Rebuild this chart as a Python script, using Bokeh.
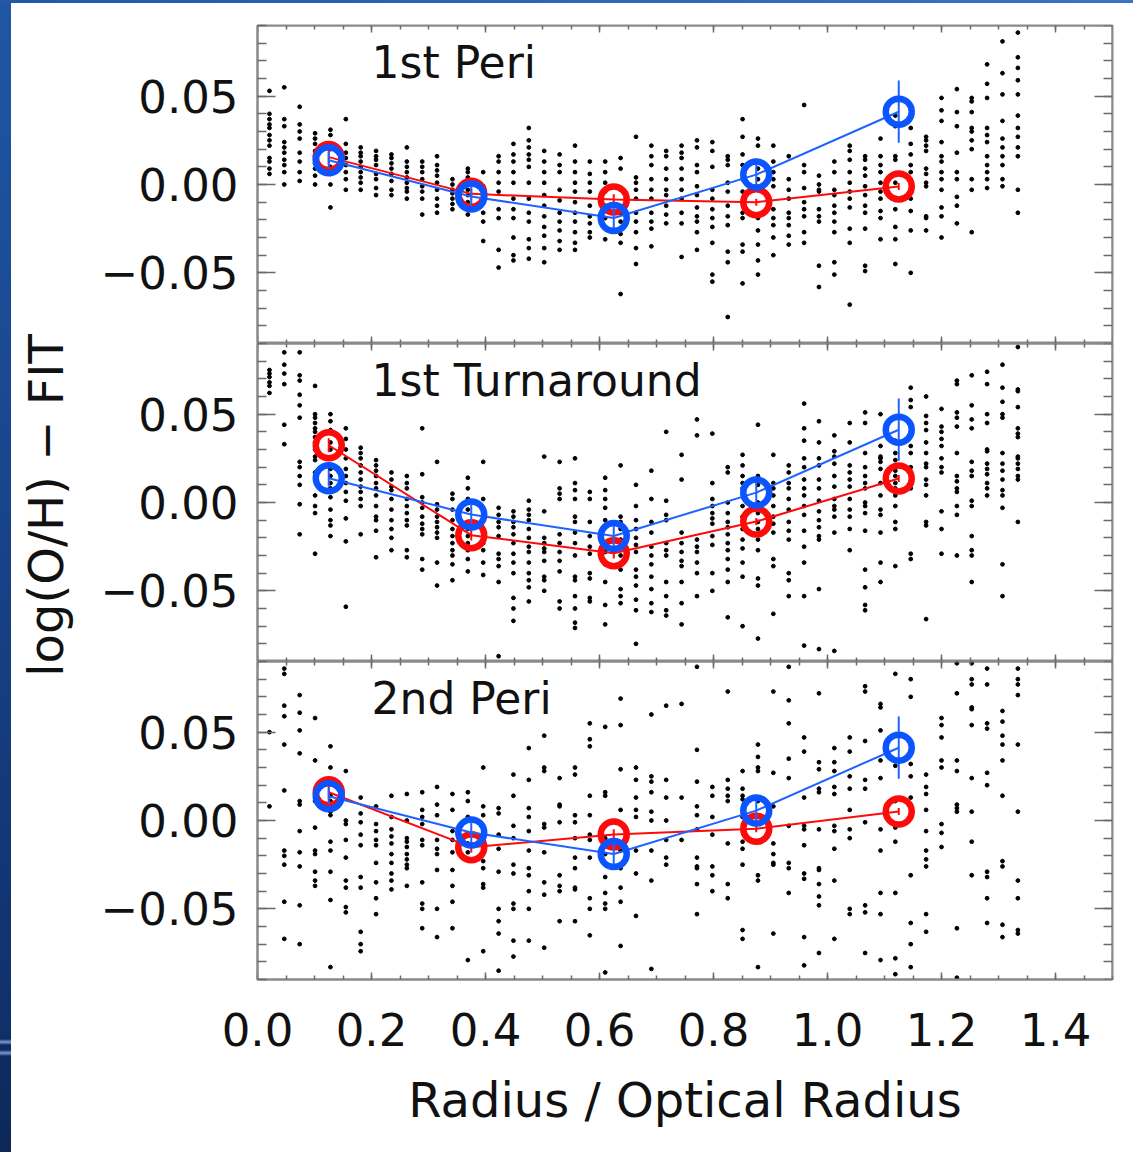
from bokeh.plotting import figure
from bokeh.layouts import column, row
from bokeh.models import (Div, LinearAxis, FixedTicker, Range1d,
                          ColumnDataSource, CustomJSTickFormatter, Label)
from bokeh.embed import file_html
from bokeh.resources import INLINE

# ---------------------------------------------------------------------------
# Data
# ---------------------------------------------------------------------------
# radial columns in which the individual HII-region points sit (R / R_opt)
RADIUS_COLUMNS = [
    0.021, 0.047, 0.074, 0.101, 0.128, 0.155, 0.181, 0.208, 0.235, 0.262,
    0.289, 0.315, 0.342, 0.369, 0.396, 0.423, 0.449, 0.476, 0.503, 0.530,
    0.557, 0.583, 0.610, 0.637, 0.664, 0.691, 0.717, 0.744, 0.771, 0.798,
    0.825, 0.851, 0.878, 0.905, 0.932, 0.959, 0.985, 1.012, 1.039, 1.066,
    1.093, 1.119, 1.146, 1.173, 1.200, 1.227, 1.253, 1.280, 1.307, 1.334,
]

# residuals log(O/H) - FIT per radial column, in units of 0.001 dex
PERI1_POINTS = [
    [53, 40, 37, 34, 32, 28, 25, 22, 15, 13, 9, 6],
    [55, 37, 33, 24, 21, 18, 14, 11, 7, 0],
    [44, 34, 30, 26, 18, 13, 7, 2],
    [29, 26, 23, 19, 16, 12, 9, 5, 0],
    [31, 28, 23, 20, 10, 6, 0, -13],
    [37, 23, 18, 15, 11, 7, 3, -3],
    [21, 18, 16, 13, 10, 7, 4, 1, -3],
    [19, 16, 14, 11, 6, 3, -2, -6],
    [17, 15, 12, 9, 6, 2, -3, -6],
    [21, 13, 10, 7, 4, 1, -2, -4, -8],
    [13, 10, 7, 3, -1, -4, -8, -17],
    [16, 11, 8, 5, 1, -3, -8, -12, -16],
    [3, 0, -3, -5, -8, -11, -14],
    [9, 7, 4, 1, -3, -6, -10, -14, -17],
    [7, -1, -6, -10, -16, -21, -32],
    [16, 13, 7, 1, -4, -14, -19, -37, -47],
    [23, 17, 13, 7, 1, -8, -14, -19, -30, -40, -43],
    [32, 25, 21, 17, 14, 10, 1, -8, -16, -21, -31, -36, -42],
    [19, 13, 7, 1, -6, -12, -18, -24, -29, -36, -44],
    [17, 11, 7, -3, -9, -16, -21, -26, -32, -37],
    [22, 13, 7, 1, -4, -10, -16, -21, -27, -33, -37],
    [13, 6, 1, -4, -12, -18, -22, -27, -30],
    [13, 7, 1, -4, -12, -19, -25, -31],
    [15, 9, -3, -16, -21, -28, -33, -62],
    [27, 4, 1, -3, -8, -16, -21, -27, -36, -45],
    [22, 16, 11, 3, -3, -8, -16, -21, -25, -35],
    [19, 16, 9, 3, -3, -6, -12, -17, -22],
    [22, 18, 15, 9, 3, -3, -8, -16, -22, -41],
    [25, 21, 11, 7, -1, -6, -13, -18, -21, -27, -37],
    [24, 19, 10, -3, -8, -14, -19, -24, -33, -51, -55],
    [16, 14, 11, 1, -4, -12, -18, -23, -38, -44, -75],
    [37, 27, 17, 11, 3, -4, -10, -16, -19, -34, -38, -56],
    [26, 22, 9, 3, -3, -19, -26, -34, -43, -51],
    [22, 13, 7, 3, -1, -14, -19, -23, -30, -40],
    [16, 3, -3, -8, -16, -19, -23, -29, -34],
    [45, 11, 7, -2, -10, -14, -18, -27, -33],
    [5, 0, -3, -4, -14, -18, -21, -46, -58],
    [13, 7, -3, -6, -12, -16, -21, -27, -44, -51],
    [22, 19, 14, 7, 1, -4, -8, -13, -25, -33, -68],
    [16, 14, 9, 5, -1, -6, -12, -16, -25, -46, -49],
    [26, 16, 11, 7, 1, -4, -8, -15, -19, -31],
    [39, 33, 16, 14, 1, -8, -14, -24, -31, -45],
    [32, 23, 17, 11, 7, -8, -15, -26, -50],
    [27, 25, 22, 19, 9, 6, 1, -1, -18, -19, -26],
    [49, 42, 36, 24, 16, 13, 7, 3, -3, -13, -18, -30],
    [54, 41, 33, 18, 7, 3, -7, -12, -22],
    [49, 47, 41, 32, 30, 25, 20, 3, -3, -27],
    [68, 57, 49, 32, 28, 24, 16, 11, 7, 3, -2],
    [81, 63, 51, 36, 26, 21, 16, 11, 3, -1],
    [86, 72, 66, 59, 51, 39, 32, 27, 21, 16, -3, -16],
]

TURN1_POINTS = [
    [75, 73, 71, 68, 66, 62],
    [85, 78, 73, 67, 44, 33],
    [85, 72, 69, 61, 55, 48, 23, 20, 15, 10, -1, -18],
    [66, 50, 48, 45, 42, 40, 37, 34, 30, 26, 24, 17, 4, -2, -6, -29],
    [50, 46, 41, 34, 30, 25, 19, 15, 11, 8, 3, -4, -10, -13, -19],
    [42, 36, 30, 25, 19, 15, 11, 6, 1, -9, -22, -59],
    [31, 28, 25, 21, 17, 13, 9, 6, 2, -2, -18],
    [24, 21, 18, 15, 11, 8, 4, -2, -8, -10, -16, -31],
    [17, 13, 9, 7, 2, -4, -10, -15, -20, -27],
    [15, 11, 8, 2, -2, -6, -10, -13, -27, -31],
    [42, 16, 3, 0, -3, -8, -12, -15, -18, -32, -38],
    [23, -1, -4, -8, -11, -14, -17, -20, -34, -47],
    [5, 2, -4, -10, -15, -19, -23, -27, -30, -35, -44],
    [14, 8, 2, -4, -15, -19, -23, -27, -32, -39],
    [23, 2, -4, -10, -17, -23, -27, -34, -41],
    [-3, -7, -11, -14, -19, -29, -32, -36, -45, -87],
    [-5, -8, -11, -14, -18, -23, -29, -34, -40, -54, -60, -67],
    [1, -4, -7, -10, -15, -20, -25, -28, -34, -40, -44, -48, -56],
    [26, -5, -20, -23, -26, -28, -33, -42, -44, -50],
    [23, 8, 5, 2, -18, -23, -28, -33, -39, -56, -60],
    [25, 11, 7, 2, -8, -11, -17, -23, -30, -42, -44, -53, -60, -68, -71],
    [6, 2, -11, -19, -25, -29, -40, -43, -54, -56],
    [14, 7, 2, -3, -10, -14, -23, -28, -35, -45, -58, -69],
    [21, -8, -11, -15, -21, -26, -30, -38, -49, -53, -57],
    [10, -2, -10, -15, -20, -24, -28, -38, -42, -47, -55, -61, -80],
    [18, 2, -11, -17, -25, -30, -35, -42, -49, -57, -62],
    [40, 1, -7, -10, -23, -27, -30, -45, -53, -61, -64],
    [27, 13, -17, -23, -28, -33, -36, -45, -57, -69],
    [47, 38, -21, -25, -28, -34, -40, -53],
    [39, 11, 2, -2, -6, -9, -12, -19, -24, -40, -50],
    [20, 17, 0, -6, -11, -14, -18, -23, -27, -32, -38, -45, -65],
    [27, 21, 15, 11, 8, -2, -8, -15, -21, -26, -34, -42, -70],
    [44, 15, 10, 0, -6, -11, -15, -21, -27, -43, -47, -77],
    [27, 11, 8, 4, -2, -8, -12, -17, -32, -36, -63],
    [21, 17, 11, 8, 2, -4, -11, -16, -21, -40, -44, -53],
    [56, 42, 35, 25, 20, 13, 8, 4, -2, -7, -16, -25, -34, -53, -81],
    [46, 34, 25, 21, 13, 8, 1, -5, -10, -14, -19, -21, -49, -83],
    [38, 29, 26, 22, 15, 9, 2, -2, -4, -8, -17, -84],
    [45, 34, 21, 17, 13, 9, 2, -4, -8, -15, -27],
    [51, 45, 28, 20, 15, 11, 8, 0, -2, -6, -16, -38, -48, -58, -61],
    [50, 32, 26, 25, 23, 19, 11, 4, -4, -7, -17, -34, -45],
    [35, 28, 24, 18, 15, 11, 8, 4, -2, -11, -15, -36],
    [65, 58, 54, 32, 28, 20, 16, 8, -29, -32],
    [60, 49, 45, 41, 34, 28, 22, 20, 13, 10, 4, -11, -13, -66],
    [53, 43, 40, 36, 32, 25, 20, 17, -5, -15, -29],
    [69, 67, 51, 48, 43, 28, 15, 12, 8, 6, -2, -7, -30],
    [72, 55, 47, 42, 23, 18, 15, 1, -2, -19, -27, -30, -45],
    [74, 67, 50, 45, 30, 29, 22, 19, 16, 11, 8, 4],
    [78, 65, 57, 50, 48, 28, 22, 18, 13, 7, 4, -3, -35, -53],
    [88, 64, 63, 54, 42, 39, 37, 26, 25, 22, 19, 15, 13, -11],
]

PERI2_POINTS = [
    [50, 8],
    [86, 83, 65, 59, 43, 17, -17, -20, -25, -46, -67],
    [71, 61, 51, 38, 11, 9, -6, -18, -26, -48, -70],
    [58, 34, 11, -4, -17, -19, -29, -34, -37],
    [42, 30, 22, 14, 11, 5, 3, -12, -17, -29, -45, -83],
    [28, 0, -2, -11, -21, -34, -38, -49, -52],
    [13, 4, -1, -8, -14, -32, -38, -63, -70, -74],
    [8, -2, -6, -11, -14, -24, -35, -44, -53],
    [14, 2, -5, -9, -13, -19, -24, -30, -34, -39],
    [15, 0, -10, -12, -15, -19, -22, -25, -27, -37],
    [16, 6, 2, -2, -11, -14, -35, -47, -50, -61],
    [19, 9, 3, -11, -16, -19, -28, -50, -66],
    [15, 6, -6, -11, -18, -28, -37, -46, -61],
    [16, 11, 2, -13, -18, -79],
    [30, 8, 3, -23, -27, -36, -38, -74],
    [7, 4, -8, -16, -29, -50, -57, -64, -85],
    [26, 14, -3, -10, -25, -30, -47, -50, -68, -77],
    [41, 23, 7, 2, -6, -17, -27, -31, -40, -50, -68],
    [48, 30, 28, -2, -4, -18, -35, -42, -72],
    [24, 9, 8, -1, -31, -37, -40, -57],
    [30, 26, 3, -1, -10, -21, -27, -38, -39, -57],
    [55, 46, 42, 14, 3, -8, -11, -21, -44, -50, -65],
    [53, 16, 14, -3, -10, -19, -32, -41, -47, -50, -86],
    [69, 54, 29, 6, -17, -27, -38, -46, -71],
    [30, 23, 13, 6, 2, -17, -30, -54],
    [60, 25, 22, 16, 5, 0, -17, -34, -84],
    [65, 23, 13, 0, -11, -21, -25],
    [66, 13, -11],
    [87, 40, 22, 8, 3, -5, -21, -26, -27, -36, -53],
    [19, 14, 2, -8, -26, -31, -40],
    [73, 23, 18, 14, 11, -13, -36, -44],
    [28, 18, 14, 12, 2, -12, -16, -25, -62, -67],
    [43, 36, 30, 28, 11, -31, -34, -83],
    [73, 27, 8, -13, -19, -24, -25, -64],
    [87, 68, 55, 35, 24, -3, -24, -27, -41],
    [47, 39, 13, -3, -5, -14, -30, -33, -66, -82],
    [72, 33, 29, 18, 16, -5, -27, -28, -36, -43, -48, -75],
    [41, 33, 28, 19, 15, -3, -6, -16, -34, -67],
    [47, 39, 25, 18, 6, -5, -10, -50, -53],
    [76, 73, 45, 23, 18, -1, -48, -52, -75],
    [66, 64, 51, 34, 24, -5, -17, -41, -53, -79],
    [83, 31, 11, -4, -12, -41, -78, -87],
    [80, 70, 32, 25, 13, -31, -58, -70, -83],
    [26, 19, 15, 6, -6, -17, -22, -26, -53, -63],
    [58, 54, 47, 34, 30, -2, -7, -15],
    [89, 72, 34, 28, 9, 7, 5, -61, -89],
    [89, 80, 77, 64, 63, 54, 24, 5, -12, -31],
    [86, 77, 55, 52, 27, 20, -29, -32, -44, -58],
    [62, 56, 48, 43, 34, 14, -23, -26, -59, -66],
    [86, 80, 77, 71, 43, 5, -34, -44, -62, -64],
]

# binned means with their errors
BIN_CENTERS = [0.125, 0.375, 0.625, 0.875, 1.125]
ISOLATED_MEAN = [0.0137, -0.0068, -0.0190, 0.0056, 0.0412]
ISOLATED_ERR = [0.0047, 0.0055, 0.0070, 0.0090, 0.0176]
PERI1_MEAN = [0.0155, -0.0053, -0.0085, -0.0100, -0.0011]
TURN1_MEAN = [0.0324, -0.0185, -0.0287, -0.0108, 0.0136]
PERI2_MEAN = [0.0160, -0.0151, -0.0079, -0.0047, 0.0051]
INTERACTING_ERR = [0.0040, 0.0030, 0.0030, 0.0020, 0.0020]

PANEL_TITLES = ["1st Peri", "1st Turnaround", "2nd Peri"]
X_TICKS = [0.0, 0.2, 0.4, 0.6, 0.8, 1.0, 1.2, 1.4]
X_MINOR = [round(0.05 * i, 2) for i in range(31)]
Y_TICKS = [-0.05, 0.0, 0.05]
Y_MINOR = [round(-0.09 + 0.01 * i, 2) for i in range(19)]
X_LIMITS = (0.0, 1.5)
Y_LIMITS = (-0.09, 0.09)

# ---------------------------------------------------------------------------
# Styling
# ---------------------------------------------------------------------------
FONT = "DejaVu Sans"
INK = "#111111"
FRAME_COLOR = "#8a8a8a"
TICK_COLOR = "#6a6a6a"
RED = "#ff0a0a"
BLUE = "#0a55ff"
BLUE_LINE = "#1f63ff"

PAGE_H = 1152
SIDE_W = 11          # dark slide stripe on the left
LABEL_W = 70         # strip holding the rotated y title
TOP_H = 3            # slide stripe along the top
PANEL_W = 1133 - SIDE_W - LABEL_W

x_range = Range1d(*X_LIMITS)

x_fmt = CustomJSTickFormatter(code="return tick.toFixed(1);")
y_fmt = CustomJSTickFormatter(
    code="const s = tick.toFixed(2); return s.startsWith('-') ? '\u2212' + s.slice(1) : s;")


def make_axis(horizontal, labelled, fixed=None):
    ticker = FixedTicker(ticks=X_TICKS if horizontal else Y_TICKS,
                         minor_ticks=X_MINOR if horizontal else Y_MINOR)
    ax = LinearAxis(ticker=ticker, formatter=x_fmt if horizontal else y_fmt)
    if fixed is not None:
        ax.fixed_location = fixed
    ax.axis_line_color = FRAME_COLOR
    ax.axis_line_width = 2
    ax.major_tick_line_color = TICK_COLOR
    ax.minor_tick_line_color = TICK_COLOR
    ax.major_tick_line_width = 1.5
    ax.minor_tick_line_width = 1.5
    ax.major_tick_out = 0
    ax.minor_tick_out = 0
    if horizontal:
        ax.major_tick_in = 7
        ax.minor_tick_in = 4
    else:
        ax.major_tick_in = 18
        ax.minor_tick_in = 9
    ax.major_label_text_font = FONT
    ax.major_label_text_font_size = "45px"
    if labelled:
        ax.major_label_text_color = INK
        ax.major_label_standoff = 33 if horizontal else 19
    else:
        ax.major_label_text_color = None
    ax.axis_label_text_font = FONT
    ax.axis_label_text_font_style = "normal"
    ax.axis_label_text_color = INK
    return ax


def make_panel(points, red_mean, title, height, border_top, border_bottom,
               bottom_labels):
    p = figure(width=PANEL_W, height=height, x_range=x_range,
               y_range=Range1d(*Y_LIMITS),
               output_backend="svg", toolbar_location=None,
               x_axis_location=None, y_axis_location=None,
               min_border_left=257 - SIDE_W - LABEL_W, min_border_right=21,
               min_border_top=border_top, min_border_bottom=border_bottom)
    p.background_fill_color = "white"
    p.border_fill_color = "white"
    p.outline_line_color = FRAME_COLOR
    p.outline_line_width = 2
    p.xgrid.visible = False
    p.ygrid.visible = False

    # box of ticks on all four sides; only left (and the lowest bottom) labelled
    p.add_layout(make_axis(False, True), "left")
    p.add_layout(make_axis(False, False, fixed=X_LIMITS[1]), "right")
    p.add_layout(make_axis(True, False, fixed=Y_LIMITS[1]), "above")
    if bottom_labels:
        below = make_axis(True, True)
        below.axis_label = "Radius / Optical Radius"
        below.axis_label_text_font_size = "48px"
        below.axis_label_standoff = 23
    else:
        below = make_axis(True, False, fixed=Y_LIMITS[0])
    p.add_layout(below, "below")

    # individual points
    xs, ys = [], []
    for r, col in zip(RADIUS_COLUMNS, points):
        for v in col:
            xs.append(r)
            ys.append(v / 1000.0)
    p.scatter(xs, ys, marker="circle", size=3.8, color="black")

    red = ColumnDataSource(dict(
        x=BIN_CENTERS, y=red_mean,
        lo=[m - e for m, e in zip(red_mean, INTERACTING_ERR)],
        hi=[m + e for m, e in zip(red_mean, INTERACTING_ERR)]))
    blue = ColumnDataSource(dict(
        x=BIN_CENTERS, y=ISOLATED_MEAN,
        lo=[m - e for m, e in zip(ISOLATED_MEAN, ISOLATED_ERR)],
        hi=[m + e for m, e in zip(ISOLATED_MEAN, ISOLATED_ERR)]))

    p.line("x", "y", source=red, line_color=RED, line_width=2)
    p.segment(x0="x", y0="lo", x1="x", y1="hi", source=red,
              line_color=RED, line_width=2)
    p.scatter("x", "y", source=red, marker="circle", size=26,
              fill_color=None, line_color=RED, line_width=6.5)

    p.line("x", "y", source=blue, line_color=BLUE_LINE, line_width=2)
    p.segment(x0="x", y0="lo", x1="x", y1="hi", source=blue,
              line_color=BLUE_LINE, line_width=2)
    p.scatter("x", "y", source=blue, marker="circle", size=26,
              fill_color=None, line_color=BLUE, line_width=6.5)

    p.add_layout(Label(x=0.2, y=0.069, text=title, text_font=FONT,
                       text_font_size="44px", text_color=INK,
                       text_baseline="alphabetic", text_align="left"))
    return p


p1 = make_panel(PERI1_POINTS, PERI1_MEAN, PANEL_TITLES[0], 340, 25 - TOP_H, 0, False)
p2 = make_panel(TURN1_POINTS, TURN1_MEAN, PANEL_TITLES[1], 318, 0, 0, False)
p3 = make_panel(PERI2_POINTS, PERI2_MEAN, PANEL_TITLES[2],
                PAGE_H - TOP_H - 340 - 318, 0, 173, True)

# narrow strip carrying the shared, rotated y-axis title
ylab = figure(width=LABEL_W, height=PAGE_H - TOP_H,
              x_range=Range1d(0, LABEL_W), y_range=Range1d(0, PAGE_H - TOP_H),
              output_backend="svg", toolbar_location=None,
              x_axis_location=None, y_axis_location=None,
              min_border=0, outline_line_color=None)
ylab.xgrid.visible = False
ylab.ygrid.visible = False
ylab.border_fill_color = "white"
ylab.background_fill_color = "white"
ylab.add_layout(Label(x=45 - SIDE_W, y=PAGE_H - 505, text="log(O/H) \u2212 FIT",
                      angle=90, angle_units="deg", text_font=FONT,
                      text_font_size="48px", text_color=INK,
                      text_align="center", text_baseline="middle"))

top_band = Div(text="", width=1133, height=TOP_H, margin=0,
               styles={"background": "linear-gradient(to right, #2458a6, #3a74c4)"})
side_band = Div(text="", width=SIDE_W, height=PAGE_H - TOP_H, margin=0,
                styles={"background": (
                    "linear-gradient(to bottom, #2056a4 0px, #1a4891 400px, "
                    "#10306a 1030px, #0f2c62 1036px, #7d9bd0 1039px, "
                    "#0f2c62 1042px, #0f2c62 1047px, #7d9bd0 1050px, "
                    "#0f2c62 1053px, #0d2858 1149px)")})

layout = column(top_band,
                row(side_band, ylab, column(p1, p2, p3, spacing=0), spacing=0),
                spacing=0)

with open("out.html", "w") as f:
    f.write(file_html(layout, INLINE, title="log(O/H) - FIT"))
